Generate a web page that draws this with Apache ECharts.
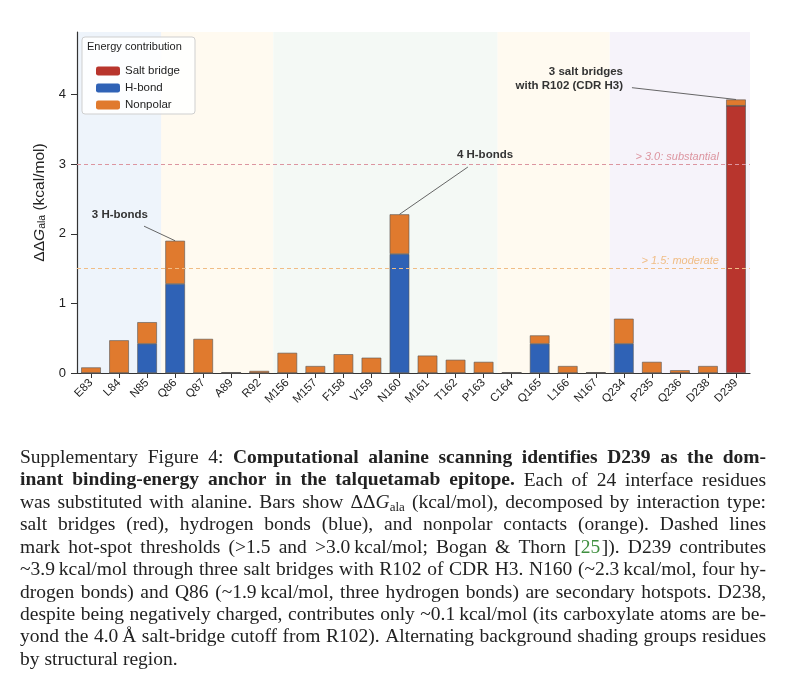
<!DOCTYPE html>
<html>
<head>
<meta charset="utf-8">
<script src="https://cdn.jsdelivr.net/npm/echarts@6/dist/echarts.min.js"></script>
<style>
  html, body { margin: 0; padding: 0; background: #fff; }
  #main { width: 800px; height: 682px; }
</style>
</head>
<body>
<div id="main"></div>
<script>
// residues and per-type ddG (kcal/mol)
const residues = ['E83', 'L84', 'N85', 'Q86', 'Q87', 'A89', 'R92', 'M156', 'M157', 'F158', 'V159', 'N160',
  'M161', 'T162', 'P163', 'C164', 'Q165', 'L166', 'N167', 'Q234', 'P235', 'Q236', 'D238', 'D239']
const saltBridge = [0, 0, 0, 0, 0, 0, 0, 0, 0, 0, 0, 0, 0, 0, 0, 0, 0, 0, 0, 0, 0, 0, 0, 3.84]
const hBond = [0, 0, 0.42, 1.28, 0, 0, 0, 0, 0, 0, 0, 1.71, 0, 0, 0, 0, 0.42, 0, 0, 0.42, 0, 0, 0, 0]
const nonpolar = [0.08, 0.47, 0.31, 0.62, 0.49, 0.01, 0.03, 0.29, 0.10, 0.27, 0.22, 0.57,
  0.25, 0.19, 0.16, 0.01, 0.12, 0.10, 0.01, 0.36, 0.16, 0.04, 0.10, 0.09]
const yTicks = [0, 1, 2, 3, 4]

// structural regions (first / last residue index)
const regionStart = [0, 3, 7, 15, 19]
const regionEnd = [2, 6, 14, 18, 23]
const regionColors = ['#eef4fb', '#fffaf0', '#f4f9f5', '#fffaf0', '#f6f3fa']

const thresholdValues = [1.5, 3.0]
const thresholdLabels = ['> 1.5: moderate', '> 3.0: substantial']
const thresholdColors = ['#f0bd86', '#dc95a0']

const annotationText = ['3 H-bonds', '4 H-bonds', '3 salt bridges\nwith R102 (CDR H3)']
const annotationTarget = [3, 11, 23]

const colors = { salt: '#b8352d', hbond: '#2f62b6', nonpolar: '#e07a2e' }
const sansFont = '"Liberation Sans", Arial, sans-serif'

const totals = residues.map((r, i) => saltBridge[i] + hBond[i] + nonpolar[i])

var myChart = echarts.init(document.getElementById('main'), null, { renderer: 'canvas' })

const barSeries = (name, data, color) => ({
  name: name,
  type: 'bar',
  stack: 'dg',
  data: data,
  barWidth: '70%',
  z: 3,
  itemStyle: { color: color, borderColor: '#555', borderWidth: 0.6 }
})

const nonpolarSeries = barSeries('Nonpolar', nonpolar, colors.nonpolar)
nonpolarSeries.markLine = {
  silent: true,
  symbol: 'none',
  label: { show: false },
  data: thresholdValues.map((v, i) => ({
    yAxis: v,
    lineStyle: { color: thresholdColors[i], type: [4, 3], width: 1 }
  }))
}

myChart.setOption({
  animation: false,
  textStyle: { fontFamily: sansFont },
  grid: { left: 77, right: 50, top: 32, bottom: 309, containLabel: false },
  legend: {
    data: ['Salt bridge', 'H-bond', 'Nonpolar'],
    orient: 'vertical',
    left: 91,
    top: 60,
    itemWidth: 24,
    itemHeight: 9,
    itemGap: 5,
    z: 20,
    textStyle: { fontSize: 11.5, color: '#222', fontFamily: sansFont },
    itemStyle: { borderWidth: 0 }
  },
  xAxis: [
    {
      type: 'category',
      data: residues,
      axisLine: { onZero: false, lineStyle: { color: '#333', width: 1.2 } },
      axisTick: { show: true, alignWithLabel: true, length: 5, lineStyle: { color: '#333' } },
      axisLabel: { rotate: 45, fontSize: 11.5, color: '#222', margin: 8, interval: 0 },
      splitLine: { show: false }
    },
    { type: 'value', min: -0.5, max: 23.5, show: false }
  ],
  yAxis: {
    type: 'value',
    min: 0,
    max: 4.9,
    interval: 1,
    axisLine: { show: true, onZero: false, lineStyle: { color: '#333', width: 1.2 } },
    axisTick: { show: true, length: 6, customValues: yTicks, lineStyle: { color: '#333' } },
    axisLabel: { fontSize: 13, color: '#222', margin: 11, customValues: yTicks },
    splitLine: { show: false },
    name: '{d|ΔΔ}{g|G}{s|ala}{d| (kcal/mol)}',
    nameLocation: 'middle',
    nameRotate: 90,
    nameGap: 27,
    nameTextStyle: {
      rich: {
        d: { fontSize: 15.5, color: '#222', fontFamily: sansFont },
        g: { fontSize: 15.5, color: '#222', fontStyle: 'italic', fontFamily: sansFont },
        s: { fontSize: 10.5, color: '#222', verticalAlign: 'bottom', padding: [6, 0, 0, 0], fontFamily: sansFont }
      }
    }
  },
  series: [
    {
      type: 'custom',
      silent: true,
      z: 0,
      data: regionStart.map((s, i) => [s, regionEnd[i], i]),
      encode: { x: [0, 1] },
      renderItem: function (params, api) {
        const bw = api.size([1, 0])[0]
        const x0 = api.coord([api.value(0), 0])[0] - bw / 2
        const x1 = api.coord([api.value(1), 0])[0] + bw / 2
        const cs = params.coordSys
        return {
          type: 'rect',
          shape: { x: x0, y: cs.y, width: x1 - x0, height: cs.height },
          style: { fill: regionColors[api.value(2)] }
        }
      }
    },
    barSeries('Salt bridge', saltBridge, colors.salt),
    barSeries('H-bond', hBond, colors.hbond),
    nonpolarSeries
  ]
})

// annotations and threshold labels placed in data space
const toPx = (x, y) => myChart.convertToPixel({ xAxisIndex: 1, yAxisIndex: 0 }, [x, y])
const graphics = []

const annotationPos = [
  { text: [1.03, 2.28], from: [1.89, 2.11], align: 'center' },
  { text: [14.05, 3.13], from: [13.44, 2.96], align: 'center' },
  { text: [18.97, 4.22], from: [19.29, 4.10], align: 'right' }
]
annotationText.forEach((t, i) => {
  const p = annotationPos[i]
  const tp = toPx(p.text[0], p.text[1])
  const fp = toPx(p.from[0], p.from[1])
  const ti = annotationTarget[i]
  const ep = toPx(ti, totals[ti])
  graphics.push({
    type: 'line', z: 5, silent: true,
    shape: { x1: fp[0], y1: fp[1], x2: ep[0], y2: ep[1] },
    style: { stroke: '#555', lineWidth: 0.9 }
  })
  graphics.push({
    type: 'text', z: 6, silent: true, x: tp[0], y: tp[1],
    style: {
      text: t, align: p.align, verticalAlign: 'middle', lineHeight: 14,
      fontFamily: sansFont, fontSize: 11.5, fontWeight: 'bold', fill: '#333'
    }
  })
})

thresholdValues.forEach((v, i) => {
  const p = toPx(22.39, v)
  graphics.push({
    type: 'text', z: 6, silent: true, x: p[0], y: p[1] - 2,
    style: {
      text: thresholdLabels[i], align: 'right', verticalAlign: 'bottom',
      fontFamily: sansFont, fontSize: 11, fontStyle: 'italic', fill: thresholdColors[i]
    }
  })
})

// legend frame and title
graphics.push({
  type: 'rect', z: 10, silent: true,
  shape: { x: 82, y: 37, width: 113, height: 77, r: 3 },
  style: { fill: 'rgba(255,255,255,0.85)', stroke: '#cfcfcf', lineWidth: 1 }
})
graphics.push({
  type: 'text', z: 11, silent: true, x: 87, y: 47,
  style: { text: 'Energy contribution', verticalAlign: 'middle', fontFamily: sansFont, fontSize: 11, fill: '#222' }
})

// caption, justified word by word
const captionLines = [
  [['Supplementary Figure 4: ', 'n'], ['Computational alanine scanning identifies D239 as the dom-', 'b']],
  [['inant binding-energy anchor in the talquetamab epitope.', 'b'], [' Each of 24 interface residues', 'n']],
  [['was substituted with alanine. Bars show ΔΔ', 'n'], ['G', 'i'], ['ala', 's'], [' (kcal/mol), decomposed by interaction type:', 'n']],
  [['salt bridges (red), hydrogen bonds (blue), and nonpolar contacts (orange). Dashed lines', 'n']],
  [['mark hot-spot thresholds (>1.5 and >3.0\u2009kcal/mol; Bogan & Thorn [', 'n'], ['25', 'g'], ['\u200a]). D239 contributes', 'n']],
  [['~3.9\u2009kcal/mol through three salt bridges with R102 of CDR H3. N160 (~2.3\u2009kcal/mol, four hy-', 'n']],
  [['drogen bonds) and Q86 (~1.9\u2009kcal/mol, three hydrogen bonds) are secondary hotspots. D238,', 'n']],
  [['despite being negatively charged, contributes only ~0.1\u2009kcal/mol (its carboxylate atoms are be-', 'n']],
  [['yond the 4.0\u2009Å salt-bridge cutoff from R102). Alternating background shading groups residues', 'n']],
  [['by structural region.', 'n']]
]
const serif = '"Liberation Serif", "Times New Roman", serif'
const capSize = 19.5
const capStyles = {
  n: { fontSize: capSize, fontWeight: 'normal', fontStyle: 'normal', fill: '#222', dy: 0 },
  b: { fontSize: capSize, fontWeight: 'bold', fontStyle: 'normal', fill: '#222', dy: 0 },
  i: { fontSize: capSize, fontWeight: 'normal', fontStyle: 'italic', fill: '#222', dy: 0 },
  s: { fontSize: 13, fontWeight: 'normal', fontStyle: 'normal', fill: '#222', dy: 5 },
  g: { fontSize: capSize, fontWeight: 'normal', fontStyle: 'normal', fill: '#3f8f3f', dy: 0 }
}
const ctx = document.createElement('canvas').getContext('2d')
const measure = (txt, k) => {
  const s = capStyles[k]
  ctx.font = s.fontStyle + ' ' + s.fontWeight + ' ' + s.fontSize + 'px ' + serif
  return ctx.measureText(txt).width
}
const capLeft = 20, capRight = 766, capTop = 458, capLine = 22.4
captionLines.forEach((line, li) => {
  const words = []
  let cur = []
  line.forEach(([txt, k]) => {
    txt.split(' ').forEach((part, pi) => {
      if (pi > 0 && cur.length) { words.push(cur); cur = [] }
      if (part) cur.push([part, k])
    })
  })
  if (cur.length) words.push(cur)
  const widths = words.map(w => w.reduce((a, [t, k]) => a + measure(t, k), 0))
  const total = widths.reduce((a, b) => a + b, 0)
  const last = li === captionLines.length - 1
  const gap = last ? measure(' ', 'n') : (capRight - capLeft - total) / (words.length - 1)
  let x = capLeft
  const y = capTop + li * capLine
  words.forEach((w, wi) => {
    let px = x
    w.forEach(([t, k]) => {
      const s = capStyles[k]
      graphics.push({
        type: 'text', silent: true, x: px, y: y + s.dy,
        style: {
          text: t, verticalAlign: 'middle', fontFamily: serif, fontSize: s.fontSize,
          fontWeight: s.fontWeight, fontStyle: s.fontStyle, fill: s.fill
        }
      })
      px += measure(t, k)
    })
    x += widths[wi] + gap
  })
})

myChart.setOption({ graphic: graphics })
</script>
</body>
</html>
